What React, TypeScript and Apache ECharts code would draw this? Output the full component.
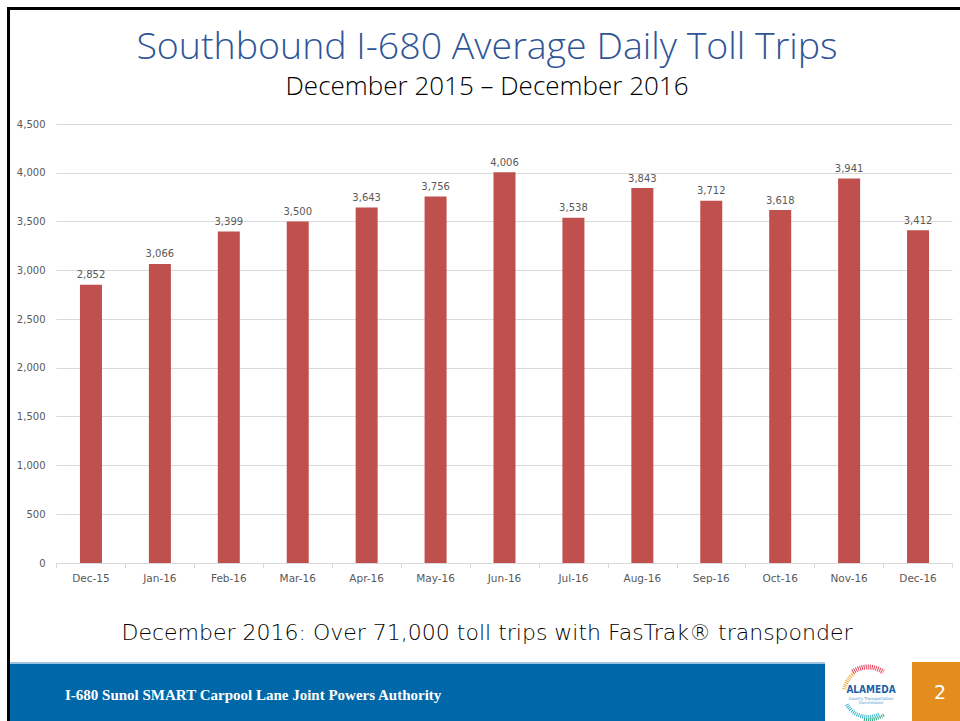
import React, { useEffect, useRef } from "react";
import * as echarts from "echarts";

const categories = ["Dec-15", "Jan-16", "Feb-16", "Mar-16", "Apr-16", "May-16", "Jun-16", "Jul-16", "Aug-16", "Sep-16", "Oct-16", "Nov-16", "Dec-16"];
const tripValues = [2852, 3066, 3399, 3500, 3643, 3756, 4006, 3538, 3843, 3712, 3618, 3941, 3412];
const titleText = "Southbound I-680 Average Daily Toll Trips";
const subtitleText = "December 2015 \u2013 December 2016";
const noteText = "December 2016: Over 71,000 toll trips with FasTrak\u00AE transponder";
const footerText = "I-680 Sunol SMART Carpool Lane Joint Powers Authority";
const pageNumber = "2";

export default function App() {
  const ref = useRef<HTMLDivElement>(null);
  useEffect(() => {
    document.body.style.margin = "0";
    const chart = echarts.init(ref.current!, undefined, { renderer: "svg" });
    const font = "'DejaVu Sans', sans-serif";
    chart.setOption({
      animation: false,
      backgroundColor: "#ffffff",
      grid: { left: 56.5, right: 7.5, top: 124, bottom: 158, containLabel: false },
      xAxis: {
        type: "category",
        data: categories,
        axisLine: { lineStyle: { color: "#D9D9D9", width: 1 } },
        axisTick: { show: true, length: 5, lineStyle: { color: "#D9D9D9" } },
        axisLabel: { color: "#595959", fontSize: 10.5, fontFamily: font, margin: 9 },
      },
      yAxis: {
        type: "value",
        min: 0,
        max: 4500,
        interval: 500,
        axisLine: { show: false },
        axisTick: { show: false },
        splitLine: { lineStyle: { color: "#D9D9D9", width: 1 } },
        axisLabel: {
          color: "#595959",
          fontSize: 10,
          fontFamily: font,
          margin: 11,
          formatter: (v: number) => v.toLocaleString("en-US"),
        },
      },
      series: [
        {
          type: "bar",
          data: tripValues,
          barWidth: 22,
          itemStyle: { color: "#C0504D" },
          label: {
            show: true,
            position: "top",
            distance: 5,
            color: "#595959",
            fontSize: 10,
            fontFamily: font,
            formatter: (p: any) => Number(p.value).toLocaleString("en-US"),
          },
        },
      ],
      graphic: [
        // slide border
        { type: "rect", shape: { x: 7, y: 7, width: 953, height: 3 }, style: { fill: "#000" } },
        { type: "rect", shape: { x: 7, y: 7, width: 3, height: 714 }, style: { fill: "#000" } },
        // titles
        {
          type: "text",
          x: 487,
          y: 44,
          style: {
            text: titleText,
            fontSize: 37.5,
            lineHeight: 38,
            fontFamily: "'Open Sans', sans-serif",
            fontWeight: 300,
            fill: "#2F5597",
            align: "center",
            verticalAlign: "middle",
          },
        },
        {
          type: "text",
          x: 487,
          y: 85,
          style: {
            text: subtitleText,
            fontSize: 26,
            lineHeight: 26,
            fontFamily: "'Open Sans', sans-serif",
            fontWeight: 300,
            fill: "#000",
            align: "center",
            verticalAlign: "middle",
          },
        },
        {
          type: "text",
          x: 487,
          y: 632,
          style: {
            text: noteText,
            fontSize: 22,
            fontFamily: "'DejaVu Sans', sans-serif",
            fontWeight: 300,
            fill: "#000",
            align: "center",
            verticalAlign: "middle",
          },
        },
        // footer
        { type: "rect", shape: { x: 10, y: 662, width: 815, height: 2 }, style: { fill: "#9CC3E0" } },
        { type: "rect", shape: { x: 10, y: 664, width: 815, height: 57 }, style: { fill: "#0068A8" } },
        {
          type: "text",
          x: 65,
          y: 695,
          style: {
            text: footerText,
            fontSize: 15,
            fontFamily: "'Liberation Serif', 'DejaVu Serif', serif",
            fontWeight: "bold",
            fill: "#ffffff",
            verticalAlign: "middle",
          },
        },
        { type: "rect", shape: { x: 912, y: 662, width: 48, height: 59 }, style: { fill: "#E38D1F" } },
        {
          type: "text",
          x: 940,
          y: 692,
          style: {
            text: pageNumber,
            fontSize: 19,
            fontFamily: "'DejaVu Sans', sans-serif",
            fill: "#ffffff",
            align: "center",
            verticalAlign: "middle",
          },
        },
        // logo
        {
          type: "arc",
          shape: { cx: 868, cy: 693, r: 24, startAngle: Math.PI * 1.05, endAngle: Math.PI * 1.3 },
          style: { stroke: "#F2A93B", lineWidth: 4, fill: "none", lineDash: [1, 1] },
        },
        {
          type: "arc",
          shape: { cx: 868, cy: 693, r: 26, startAngle: Math.PI * 1.3, endAngle: Math.PI * 1.7 },
          style: { stroke: "#E2455C", lineWidth: 5, fill: "none", lineDash: [1, 1] },
        },
        {
          type: "arc",
          shape: { cx: 868, cy: 693, r: 24, startAngle: Math.PI * 0.35, endAngle: Math.PI * 0.85 },
          style: { stroke: "#3CB7C9", lineWidth: 4, fill: "none", lineDash: [1, 1] },
        },
        {
          type: "arc",
          shape: { cx: 868, cy: 693, r: 27, startAngle: Math.PI * 0.3, endAngle: Math.PI * 0.55 },
          style: { stroke: "#2DA77F", lineWidth: 3, fill: "none", lineDash: [1, 1] },
        },
        {
          type: "text",
          x: 871,
          y: 689,
          style: {
            text: "ALAMEDA",
            fontSize: 10,
            fontWeight: "bold",
            fontFamily: "'DejaVu Sans Condensed', 'DejaVu Sans', sans-serif",
            fill: "#1E5FA9",
            align: "center",
            verticalAlign: "middle",
          },
        },
        {
          type: "text",
          x: 871,
          y: 700,
          style: {
            text: "County Transportation\nCommission",
            fontSize: 4,
            lineHeight: 4,
            fontFamily: "'DejaVu Sans', sans-serif",
            fill: "#4A90C8",
            align: "center",
            verticalAlign: "middle",
          },
        },
      ],
    });
    return () => chart.dispose();
  }, []);
  return <div ref={ref} style={{ position: "absolute", left: 0, top: 0, width: 960, height: 721 }} />;
}
